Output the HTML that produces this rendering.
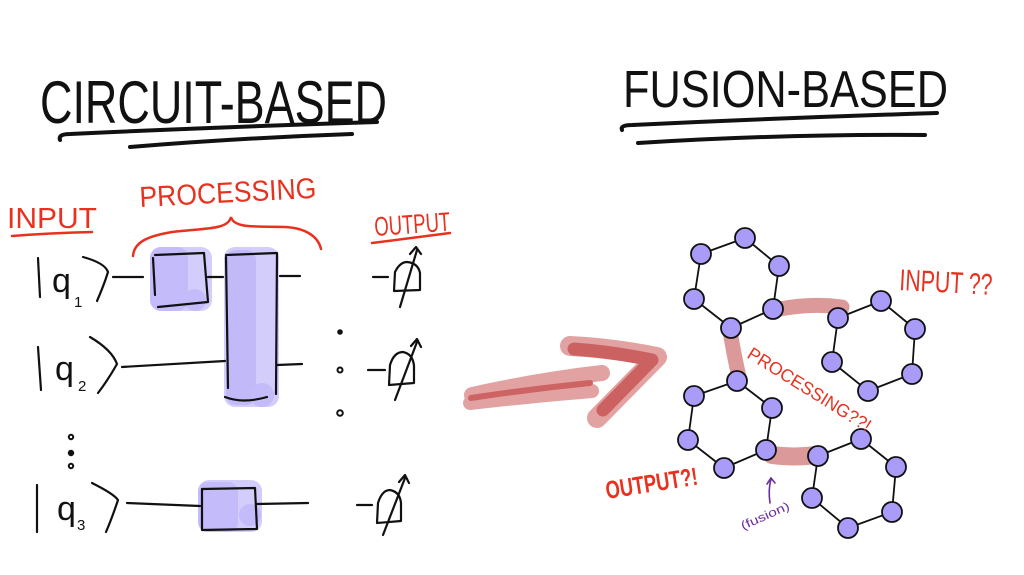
<!DOCTYPE html>
<html>
<head>
<meta charset="utf-8">
<style>
html,body{margin:0;padding:0;background:#fff;}
svg{display:block;}
text{font-family:"Liberation Sans",sans-serif;}
</style>
</head>
<body>
<svg width="1024" height="575" viewBox="0 0 1024 575" xmlns="http://www.w3.org/2000/svg">
<rect width="1024" height="575" fill="#fff"/>

<!-- Titles -->
<text x="40" y="123" font-size="60" textLength="347" lengthAdjust="spacingAndGlyphs" fill="#111">CIRCUIT-BASED</text>
<g fill="none" stroke="#111" stroke-width="4" stroke-linecap="round">
  <path d="M60 140 Q58 134 70 134 Q220 127 377 122"/>
  <path d="M130 147 Q240 138 352 134"/>
</g>

<text x="623" y="107" font-size="52" textLength="325" lengthAdjust="spacingAndGlyphs" fill="#111">FUSION-BASED</text>
<g fill="none" stroke="#111" stroke-width="4" stroke-linecap="round">
  <path d="M622 130 Q620 125 632 125 Q780 118 937 113"/>
  <path d="M638 143 Q780 134 925 135"/>
</g>

<!-- Red labels left -->
<g fill="#e8321f">
  <text x="7" y="228" font-size="29" textLength="90" lengthAdjust="spacingAndGlyphs">INPUT</text>
  <text x="140" y="207" font-size="29" textLength="177" lengthAdjust="spacingAndGlyphs" transform="rotate(-3 140 207)">PROCESSING</text>
  <text x="375" y="236" font-size="27" textLength="76" lengthAdjust="spacingAndGlyphs" transform="rotate(-4 375 236)">OUTPUT</text>
</g>
<g fill="none" stroke="#e8321f" stroke-width="2.5" stroke-linecap="round">
  <path d="M12 236 Q50 233 92 232"/>
  <path d="M372 243 Q410 238 450 233"/>
  <path d="M133 256 C134 242 148 236 172 232 C205 228 228 230 231 217 C234 229 258 226 285 227 C305 228 318 236 321 249"/>
</g>

<!-- Purple gate fills -->
<g>
  <rect x="150" y="247" width="62" height="64" rx="11" fill="#d3cdfc"/>
  <rect x="150" y="247" width="38" height="64" rx="11" fill="#c4bbfa"/>
  <circle cx="195" cy="300" r="11" fill="#c4bbfa"/>
  <rect x="224" y="247" width="55" height="160" rx="11" fill="#d3cdfc"/>
  <rect x="226" y="250" width="30" height="155" rx="10" fill="#c2b9f9"/>
  <circle cx="262" cy="395" r="12" fill="#c4bbfa"/>
  <rect x="198" y="480" width="64" height="52" rx="11" fill="#d3cdfc"/>
  <rect x="198" y="482" width="40" height="50" rx="10" fill="#c4bbfa"/>
  <circle cx="250" cy="515" r="11" fill="#c4bbfa"/>
</g>

<!-- Circuit lines -->
<g fill="none" stroke="#111" stroke-width="2.2" stroke-linecap="round" stroke-linejoin="round">
  <!-- row 1 -->
  <path d="M38 258 L40 297"/>
  <path d="M83 257 Q105 263 108 272 Q104 285 97 301"/>
  <path d="M113 277 L143 277"/>
  <path d="M155 255 L204 253 L208 302 L158 307"/>
  <path d="M153 258 L155 295"/>
  <path d="M208 277 L223 277"/>
  <path d="M226 255 L277 253 L276 394"/>
  <path d="M226 257 L228 388"/>
  <path d="M225 397 Q243 404 267 397"/>
  <path d="M280 276 L300 276"/>
  <!-- row 2 -->
  <path d="M38 347 L41 390"/>
  <path d="M90 337 Q112 350 117 364 Q108 380 98 393"/>
  <path d="M122 367 L225 361"/>
  <path d="M277 365 L302 364"/>
  <!-- row 3 -->
  <path d="M37 485 L37 532"/>
  <path d="M92 483 Q114 494 118 500 Q112 518 106 532"/>
  <path d="M127 503 L200 506"/>
  <path d="M202 489 L255 488 L257 529 L202 530 Z"/>
  <path d="M257 504 L308 503"/>
  <!-- meters -->
  <path d="M373 277 L388 277"/>
  <path d="M394 291 L395 272 Q400 262 407 262 Q418 263 420 273 L420 290 Z"/>
  <path d="M400 307 L417 250 M410 254 L416 247 L421 254"/>
  <path d="M368 370 L385 370"/>
  <path d="M389 385 L390 365 Q394 352 403 352 Q413 354 414 366 L414 383 Z"/>
  <path d="M395 400 L417 342 M411 346 L417 339 L421 347"/>
  <path d="M357 505 L372 505"/>
  <path d="M377 523 L378 503 Q382 490 390 490 Q400 492 401 503 L401 521 Z"/>
  <path d="M383 535 L405 478 M399 482 L405 475 L409 483"/>
</g>
<!-- dots -->
<g fill="none" stroke="#111" stroke-width="2">
  <circle cx="340" cy="332" r="1.8" fill="#111"/>
  <circle cx="340" cy="370" r="2.5"/>
  <circle cx="340" cy="413" r="2.8"/>
  <circle cx="71" cy="437" r="2.2"/>
  <circle cx="71" cy="453" r="2.2" fill="#111"/>
  <circle cx="71" cy="466" r="2.2"/>
</g>
<!-- ket labels -->
<g fill="#111">
  <text x="52" y="292" font-size="34">q</text>
  <text x="74" y="307" font-size="15">1</text>
  <text x="55" y="380" font-size="34">q</text>
  <text x="78" y="391" font-size="15">2</text>
  <text x="57" y="520" font-size="34">q</text>
  <text x="77" y="530" font-size="15">3</text>
</g>

<!-- Big arrow -->
<g fill="none" stroke-linecap="round" stroke-linejoin="round">
  <path d="M472 395 Q540 380 602 373" stroke="#e2a2a2" stroke-width="16"/>
  <path d="M470 403 Q530 396 592 391" stroke="#e2a2a2" stroke-width="14"/>
  <path d="M570 346 Q612 348 657 357 L597 418" stroke="#e2a2a2" stroke-width="20"/>
  <path d="M471 398 Q530 389 590 383" stroke="#cd6363" stroke-width="6"/>
  <path d="M574 349 Q614 352 652 360 L603 410" stroke="#cc6161" stroke-width="13"/>
</g>

<!-- Fusion bands -->
<g fill="none" stroke="#dc9999" stroke-linecap="round" stroke-linejoin="round">
  <path d="M780 309 Q812 303 842 307 L838 318" stroke-width="15"/>
  <path d="M730 331 Q734 355 739 377" stroke-width="15"/>
  <path d="M772 455 Q795 458 815 455" stroke-width="18"/>
</g>

<!-- Hex edges -->
<g fill="none" stroke="#111" stroke-width="1.8" stroke-linejoin="round">
  <path d="M745 238 L701 254 L694 299 L731 328 L773 309 L779 266 Z"/>
  <path d="M838 318 L881 301 L915 329 L912 374 L868 391 L832 362 Z"/>
  <path d="M737 381 L694 396 L688 440 L724 468 L766 450 L772 408 Z"/>
  <path d="M818 456 L861 439 L896 467 L892 512 L848 528 L812 498 Z"/>
</g>
<!-- Nodes -->
<g fill="#a99bf8" stroke="#111" stroke-width="1.8">
  <circle cx="745" cy="238" r="10"/><circle cx="701" cy="254" r="10"/><circle cx="779" cy="266" r="10"/>
  <circle cx="694" cy="299" r="10"/><circle cx="773" cy="309" r="10"/><circle cx="731" cy="328" r="10"/>
  <circle cx="838" cy="318" r="10"/><circle cx="881" cy="301" r="10"/><circle cx="915" cy="329" r="10"/>
  <circle cx="832" cy="362" r="10"/><circle cx="912" cy="374" r="10"/><circle cx="868" cy="391" r="10"/>
  <circle cx="737" cy="381" r="10"/><circle cx="694" cy="396" r="10"/><circle cx="772" cy="408" r="10"/>
  <circle cx="688" cy="440" r="10"/><circle cx="766" cy="450" r="10"/><circle cx="724" cy="468" r="10"/>
  <circle cx="818" cy="456" r="10"/><circle cx="861" cy="439" r="10"/><circle cx="896" cy="467" r="10"/>
  <circle cx="812" cy="498" r="10"/><circle cx="892" cy="512" r="10"/><circle cx="848" cy="528" r="10"/>
</g>

<!-- Right labels -->
<g fill="#e8321f">
  <text x="899" y="290" font-size="30" textLength="93" lengthAdjust="spacingAndGlyphs" transform="rotate(3 899 290)">INPUT ??</text>
  <text x="607" y="499" font-size="25" font-weight="bold" textLength="93" lengthAdjust="spacingAndGlyphs" transform="rotate(-9 607 499)">OUTPUT?!</text>
  <text x="746" y="357" font-size="18" textLength="142" lengthAdjust="spacingAndGlyphs" transform="rotate(32 746 357)">PROCESSING??!</text>
</g>
<!-- fusion annotation -->
<g fill="none" stroke="#6a2da0" stroke-width="1.6" stroke-linecap="round">
  <path d="M770 503 Q768 490 771 479"/>
  <path d="M767 484 L771 478 L775 483"/>
</g>
<text x="743" y="530" font-size="12" fill="#6a2da0" textLength="52" lengthAdjust="spacingAndGlyphs" transform="rotate(-24 743 530)">(fusion)</text>
</svg>
</body>
</html>
